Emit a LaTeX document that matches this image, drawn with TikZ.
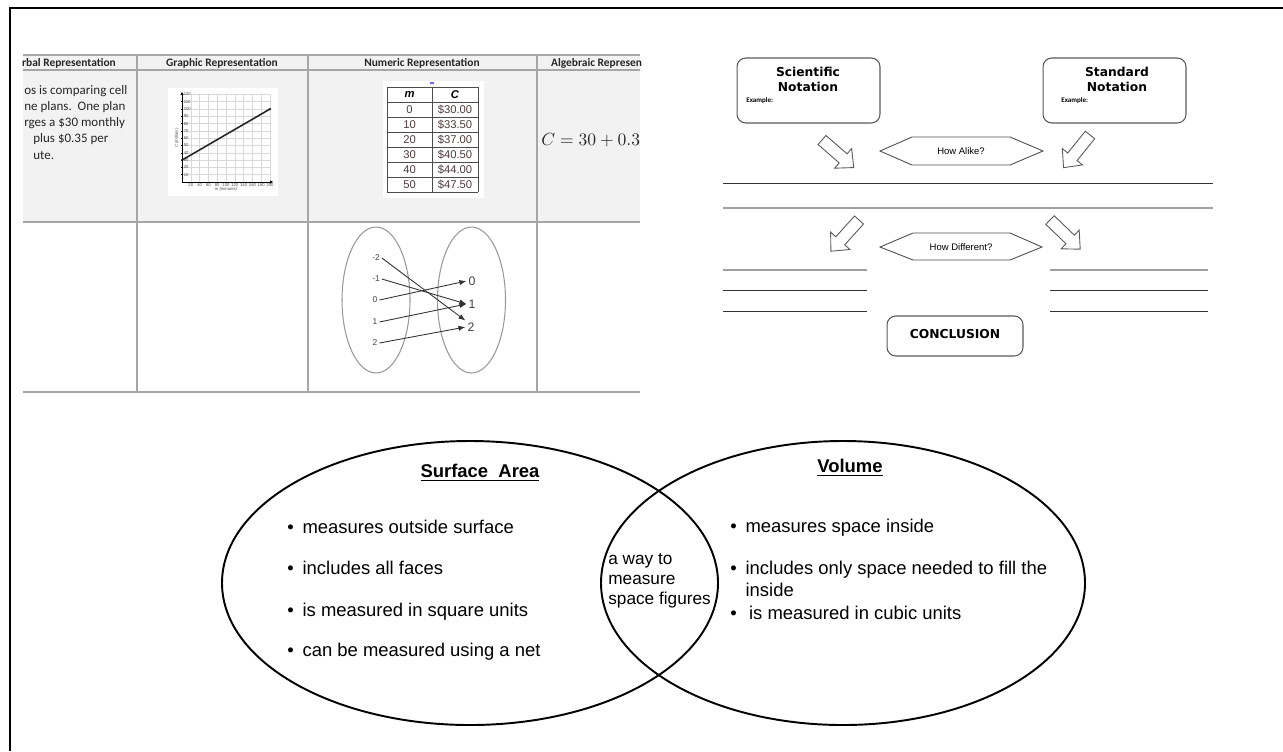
\documentclass[tikz,border=0pt]{standalone}
\usepackage[no-math]{fontspec}
\setmainfont{Liberation Sans}
\newfontfamily\calibrifont{Carlito}
\newfontfamily\verdanafont{DejaVu Sans}
\usetikzlibrary{arrows.meta, positioning}

\definecolor{cellgray}{RGB}{242,242,242}
\definecolor{numred}{RGB}{80,58,60}

% block arrow: tail x, tail y, angle
\newcommand{\blockarrow}[3]{%
  \draw[blockarr, shift={(#1,#2)}, rotate=#3] (0,-6) -- (28,-6) -- (28,-13) -- (42,0)
    -- (28,13) -- (28,6) -- (0,6) -- cycle;}

\begin{document}
\begin{tikzpicture}[x=0.02cm, y=-0.02cm,
    tabline/.style={draw=gray!70, line width=0.6pt},
    hdr/.style={font=\calibrifont\bfseries\fontsize{6.5}{7}\selectfont, text=black!85},
    verbal/.style={anchor=west, inner sep=0pt, font=\calibrifont\fontsize{7.4}{9}\selectfont, text=black!85},
    cell/.style={font=\fontsize{6.4}{7}\selectfont, text=numred, inner sep=0pt},
    ticklbl/.style={font=\fontsize{2.4}{3}\selectfont, inner sep=0.3pt, text=black!70},
    elem/.style={font=\fontsize{4.8}{6}\selectfont, inner sep=1pt, text=black!75},
    img/.style={font=\fontsize{7}{8}\selectfont, inner sep=1pt, text=black!75},
    maparrow/.style={-{Latex[length=4pt,width=3pt]}, black!80, line width=0.5pt},
    notebox/.style={draw=black!65, rounded corners=5pt, line width=0.6pt},
    boxtitle/.style={font=\verdanafont\bfseries\fontsize{7}{8.5}\selectfont, align=center, inner sep=0pt},
    example/.style={font=\calibrifont\bfseries\fontsize{4}{5}\selectfont, anchor=west, inner sep=0pt},
    blockarr/.style={draw=black!65, fill=white, line width=0.5pt},
    hexlbl/.style={font=\fontsize{5.4}{6}\selectfont, inner sep=0pt},
    writeline/.style={draw=black!80, line width=0.5pt},
    greyline/.style={draw=gray!75, line width=0.9pt},
    venn/.style={line width=1.1pt},
    vtitle/.style={font=\bfseries\fontsize{10.5}{12}\selectfont},
    vitem/.style={anchor=west, inner sep=0pt, align=left, font=\fontsize{10.5}{12.5}\selectfont}]
  \useasboundingbox (0,0) rectangle (1283,751);

  % frame
  \draw[line width=1.7pt] (10,751) -- (10,8) -- (1283,8);

  % --- representation table ---
  \fill[cellgray] (23,55) rectangle (640,222);
  \draw[tabline] (23,55) -- (640,55);
  \draw[tabline] (23,70) -- (640,70);
  \draw[tabline] (23,222) -- (640,222);
  \draw[tabline] (23,392) -- (640,392);
  \foreach \cx in {137,308,537} \draw[tabline] (\cx,55) -- (\cx,392);

  \node[hdr, anchor=east] (hverb) at (122,63) {rbal Representation};
  \node[hdr] (hgraph) at (222,63) {Graphic Representation};
  \node[hdr] (hnum) at (422,63) {Numeric Representation};
  \node[hdr, anchor=west] (halg) at (545,63) {Algebraic Represen};

  \node[verbal] (v1) at (24,91) {os is comparing cell};
  \node[verbal] (v2) at (24,107) {ne plans.\ \ One plan};
  \node[verbal] (v3) at (24,123) {rges a \$30 monthly};
  \node[verbal] (v4) at (33,139) {plus \$0.35 per};
  \node[verbal] (v5) at (33,155) {ute.};

  % graph
  \fill[white] (168,88) rectangle (278,196);
  \begin{scope}[shift={(182,182)}, x=0.0088cm, y=0.0146cm]
    \foreach \gx in {20,40,...,200} \draw[gray!30, line width=0.3pt] (\gx,0) -- (\gx,120);
    \foreach \gy in {10,20,...,120} \draw[gray!30, line width=0.3pt] (0,\gy) -- (200,\gy);
    \draw[-{Latex[length=2pt,width=2pt]}, line width=0.5pt] (0,0) -- (208,0);
    \draw[-{Latex[length=2pt,width=2pt]}, line width=0.5pt] (0,0) -- (0,124);
    \foreach \gx in {20,40,...,200} \node[ticklbl, anchor=north] at (\gx,-0.5) {\gx};
    \foreach \gy in {10,20,...,120} {
      \draw[line width=0.3pt] (-2,\gy) -- (2,\gy);
      \node[ticklbl, anchor=west] at (2,\gy) {\gy};
    }
    \node[ticklbl, anchor=north] (mlbl) at (100,-6) {\itshape m (minutes)};
    \node[ticklbl, rotate=90] (clbl) at (-12,60) {\itshape C (dollars)};
    \draw[line width=0.9pt, black!85] (0,30) -- (200,100);
    \fill[black!85] (0,30) circle (0.7pt) (200,100) circle (0.7pt);
  \end{scope}

  % numeric table
  \fill[white] (383,81) rectangle (484,198);
  \draw[blue!60, line width=0.8pt] (430,83) -- (434,83);
  \foreach \ry in {87,102,117,132,147,162,177,192} \draw[black!70, line width=0.5pt] (387,\ry) -- (478,\ry);
  \foreach \rx in {387,432,478} \draw[black!70, line width=0.5pt] (\rx,87) -- (\rx,192);
  \node[cell, text=black, font=\bfseries\itshape\fontsize{6.4}{7}\selectfont] (hm) at (409.5,94.5) {m};
  \node[cell, text=black, font=\bfseries\itshape\fontsize{6.4}{7}\selectfont] (hc) at (455,94.5) {C};
  \foreach \mv/\cv [count=\i] in {0/30.00,10/33.50,20/37.00,30/40.50,40/44.00,50/47.50} {
    \node[cell] at (409.5,94.5+15*\i) {\mv};
    \node[cell] at (455,94.5+15*\i) {\$\cv};
  }

  % algebraic
  \node[anchor=west, inner sep=0pt, font=\fontsize{9.6}{11}\selectfont, text=black!85] (alg) at (541,140) {$C = 30 + 0.3$};

  % mapping diagram
  \draw[gray!80, line width=0.6pt] (376,300) ellipse [x radius=34, y radius=73];
  \draw[gray!80, line width=0.6pt] (471.5,300) ellipse [x radius=34, y radius=73];
  \node[elem] (dm2) at (376,258) {-2};
  \node[elem] (dm1) at (376,279) {-1};
  \node[elem] (d0) at (375,300) {0};
  \node[elem] (d1) at (375,322) {1};
  \node[elem] (d2) at (375,343) {2};
  \node[img] (r0) at (472,281) {0};
  \node[img] (r1) at (472,304) {1};
  \node[img] (r2) at (471,327) {2};
  \draw[maparrow] (dm2.east) -- (r2.north west);
  \draw[maparrow] (dm1.east) -- (r1.west);
  \draw[maparrow] (d0.east) -- (r0.west);
  \draw[maparrow] (d1.east) -- (r1.west);
  \draw[maparrow] (d2.east) -- (r2.west);

  % --- compare / contrast chart ---
  \node[notebox, minimum width=2.86cm, minimum height=1.3cm] (sci) at (808.5,90.5) {};
  \node[boxtitle] (scit) at (808,79.5) {Scientific\\Notation};
  \node[example] (sciex) at (746,101) {Example:};
  \node[notebox, minimum width=2.86cm, minimum height=1.3cm] (std) at (1114.5,90.5) {};
  \node[boxtitle] (stdt) at (1117,79.5) {Standard\\Notation};
  \node[example] (stdex) at (1061,101) {Example:};

  \blockarrow{822}{140}{-41}
  \blockarrow{1090}{135}{-129}
  \blockarrow{859}{220}{-132}
  \blockarrow{1050}{220}{-44}

  \draw[black!70, line width=0.5pt] (880,151) -- (912,137) -- (1010,137) -- (1043,151) -- (1010,165) -- (912,165) -- cycle;
  \node[hexlbl] (alike) at (961,151) {How Alike?};
  \draw[black!70, line width=0.5pt] (880,247) -- (913,233) -- (1010,233) -- (1042,247) -- (1010,260) -- (913,260) -- cycle;
  \node[hexlbl] (diff) at (961,247) {How Different?};

  \draw[writeline] (723,183) -- (1213,183);
  \draw[greyline] (723,208) -- (1213,208);
  \draw[greyline] (723,270) -- (867,270);
  \draw[writeline] (723,290) -- (867,290);
  \draw[writeline] (723,311) -- (867,311);
  \draw[greyline] (1050,270) -- (1208,270);
  \draw[writeline] (1050,290) -- (1208,290);
  \draw[writeline] (1050,311) -- (1208,311);

  \node[notebox, minimum width=2.72cm, minimum height=0.8cm] (concl) at (955,336) {};
  \node[boxtitle] (conclt) at (955,334) {CONCLUSION};

  % --- Venn diagram ---
  \draw[venn] (470,583) ellipse [x radius=248, y radius=142];
  \draw[venn] (843,583) ellipse [x radius=242, y radius=142];

  \node[vtitle] (sa) at (480,473) {\underline{Surface\ \ Area}};
  \node[vtitle] (vol) at (850,468) {\underline{Volume}};

  \node[vitem] (sa1) at (287,527) {\textbullet\hspace{5pt}measures outside surface};
  \node[vitem] (sa2) at (287,568) {\textbullet\hspace{5pt}includes all faces};
  \node[vitem] (sa3) at (287,612) {\textbullet\hspace{5pt}is measured in square units};
  \node[vitem] (sa4) at (287,652) {\textbullet\hspace{5pt}can be measured using a net};

  \node[vitem, font=\fontsize{9.8}{11.4}\selectfont] (both) at (608,581) {a way to\\measure\\space figures};

  \node[vitem] (vo1) at (730,528) {\textbullet\hspace{5pt}measures space inside};
  \node[vitem] (vo2) at (730,579) {\textbullet\hspace{5pt}includes only space needed to fill the\\\hphantom{\textbullet\hspace{5pt}}inside};
  \node[vitem] (vo3) at (730,613) {\textbullet\hspace{7pt}is measured in cubic units};
\end{tikzpicture}
\end{document}
